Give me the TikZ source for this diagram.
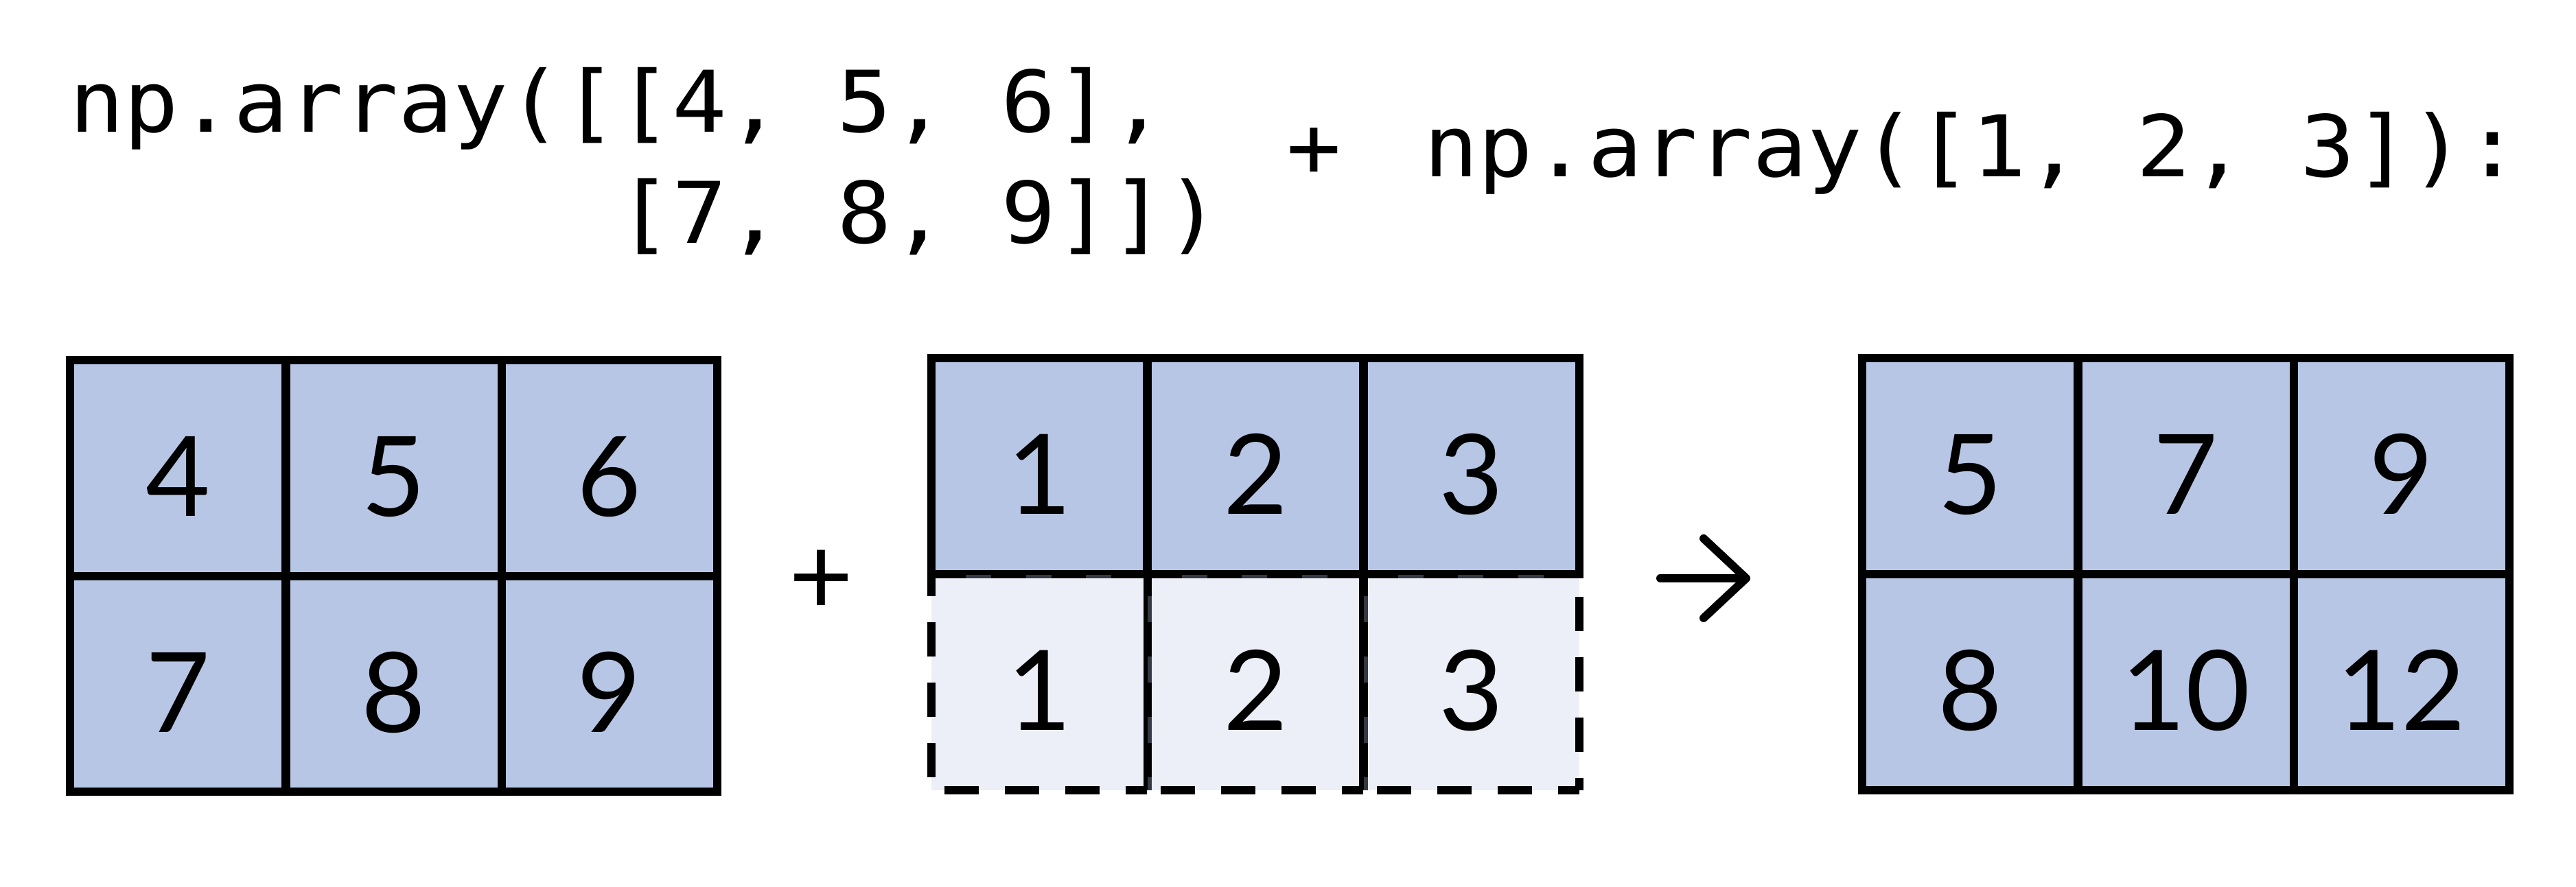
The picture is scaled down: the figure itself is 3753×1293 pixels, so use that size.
\documentclass[tikz,border=0pt]{standalone}
\usepackage{fontspec}
\newfontfamily\codefont[FakeStretch=1.07]{DejaVu Sans Mono}
\newfontfamily\numfont{Lato}
\definecolor{cellblue}{HTML}{B7C6E4}
\definecolor{celllight}{HTML}{ECEFF8}
\definecolor{edgegray}{HTML}{343944}
\begin{document}
\begin{tikzpicture}[x=0.1pt,y=-0.1pt,
  cell/.style={draw=black, line width=1.23pt, fill=cellblue, minimum width=31.43pt, minimum height=31.45pt, inner sep=0pt, outer sep=0pt},
  ghost/.style={fill=celllight, minimum width=31.43pt, minimum height=31.45pt, inner sep=0pt, outer sep=0pt},
  dashedge/.style={draw=black, line width=1.23pt, dash pattern=on 5pt off 3.8pt, dash phase=6.9pt},
  num/.style={font=\numfont\fontsize{16.2}{18}\selectfont, anchor=base, inner sep=0pt},
  code/.style={font=\codefont\fontsize{12.4}{14}\selectfont, anchor=base west, inner sep=0pt}]
\fill[white] (0,0) rectangle (3753,1293);
\useasboundingbox (0,0) rectangle (3753,1293);

% code text
\node[code] (c1) at (99,193) {np.array([[4, 5, 6],};
\node[code] (c2) at (99,355) {\phantom{np.array([}[7, 8, 9]])};
\node[code, anchor=base] (cplus) at (1914,258) {+};
\node[code] (c3) at (2072,258) {np.array([1, 2, 3]):};

% left grid
\node[cell] (a11) at (259.2,682.5) {};
\node[cell] (a12) at (573.5,682.5) {};
\node[cell] (a13) at (887.8,682.5) {};
\node[cell] (a21) at (259.2,997) {};
\node[cell] (a22) at (573.5,997) {};
\node[cell] (a23) at (887.8,997) {};
\node[num] (na11) at (259.2,753) {4};
\node[num] (na12) at (573.5,753) {5};
\node[num] (na13) at (887.8,753) {6};
\node[num] (na21) at (259.2,1068) {7};
\node[num] (na22) at (573.5,1068) {8};
\node[num] (na23) at (887.8,1068) {9};

% plus sign
\node[num, anchor=center] (plus) at (1196,849) {+};

% middle grid: stretched (ghost) row first
\node[ghost] (b21) at (1514.3,994.5) {};
\node[ghost] (b22) at (1829,994.5) {};
\node[ghost] (b23) at (2143.7,994.5) {};
\draw[dashedge] (b21.south west) -- (b21.north west);
\draw[dashedge] (b21.south west) -- (b21.south east);
\draw[dashedge] (b22.south west) -- (b22.south east);
\draw[dashedge] (b23.south west) -- (b23.south east);
\draw[dashedge, dash phase=3.2pt] (b23.south east) -- (b23.north east);
\draw[line width=1.23pt] (b22.south west) -- (b22.north west);
\draw[line width=1.23pt] (b23.south west) -- (b23.north west);
\draw[edgegray, line width=0.6pt, dash pattern=on 3.8pt off 5pt, dash phase=1.9pt]
  ([xshift=0.3pt]b22.south west) -- ([xshift=0.3pt]b22.north west)
  ([xshift=0.3pt]b23.south west) -- ([xshift=0.3pt]b23.north west);

\node[cell] (b11) at (1514.3,679.5) {};
\node[cell] (b12) at (1829,679.5) {};
\node[cell] (b13) at (2143.7,679.5) {};
\draw[edgegray, line width=0.5pt, dash pattern=on 3.7pt off 5.05pt]
  ([xshift=5pt,yshift=-0.35pt]b21.north west) -- ([xshift=26.2pt,yshift=-0.35pt]b21.north west)
  ([xshift=5pt,yshift=-0.35pt]b22.north west) -- ([xshift=26.2pt,yshift=-0.35pt]b22.north west)
  ([xshift=5pt,yshift=-0.35pt]b23.north west) -- ([xshift=26.2pt,yshift=-0.35pt]b23.north west);
\node[num] (nb11) at (1514.3,750) {1};
\node[num] (nb12) at (1829,750) {2};
\node[num] (nb13) at (2143.7,750) {3};
\node[num] (nb21) at (1514.3,1065) {1};
\node[num] (nb22) at (1829,1065) {2};
\node[num] (nb23) at (2143.7,1065) {3};

% arrow
\coordinate (arS) at (2419,843);
\coordinate (arE) at (2544,843);
\coordinate (arT) at (2482,785);
\coordinate (arB) at (2482,901);
\draw[line width=1.2pt, line cap=round, line join=round] (arS) -- (arE) (arT) -- (arE) -- (arB);

% right grid
\node[cell] (r11) at (2870.2,679.5) {};
\node[cell] (r12) at (3184.5,679.5) {};
\node[cell] (r13) at (3498.8,679.5) {};
\node[cell] (r21) at (2870.2,994.5) {};
\node[cell] (r22) at (3184.5,994.5) {};
\node[cell] (r23) at (3498.8,994.5) {};
\node[num] (nr11) at (2870.2,750) {5};
\node[num] (nr12) at (3184.5,750) {7};
\node[num] (nr13) at (3498.8,750) {9};
\node[num] (nr21) at (2870.2,1065) {8};
\node[num] (nr22) at (3184.5,1065) {10};
\node[num] (nr23) at (3498.8,1065) {12};
\end{tikzpicture}
\end{document}
